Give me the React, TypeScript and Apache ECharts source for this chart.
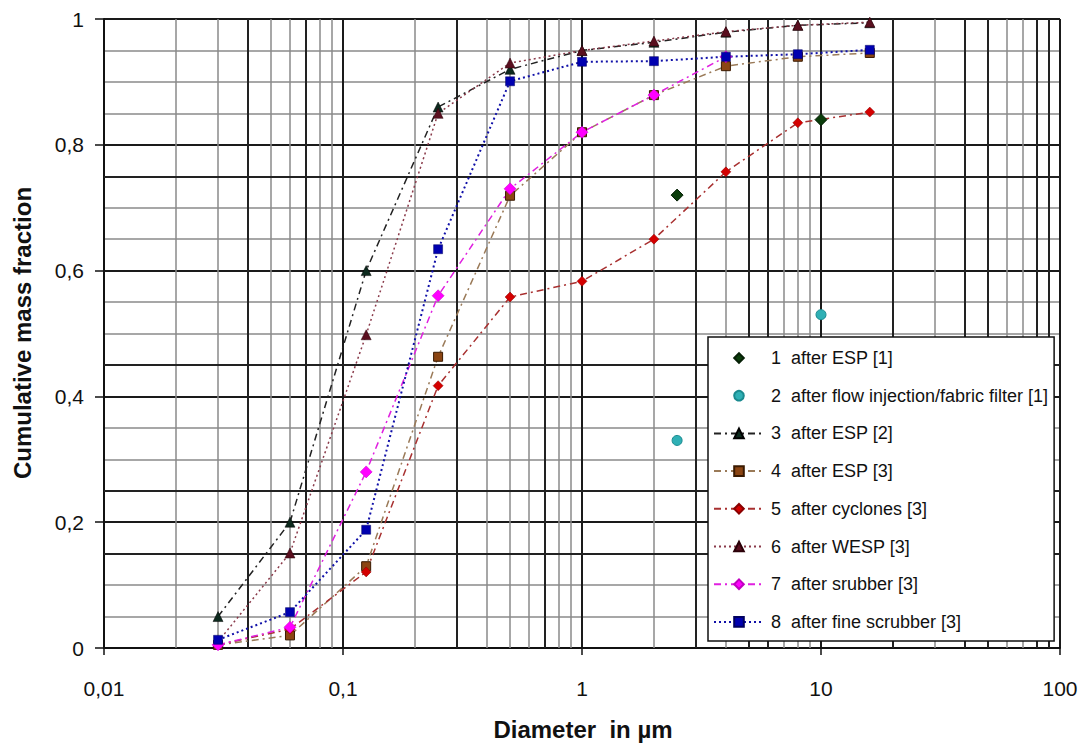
import React, { useEffect, useRef } from 'react';
import * as echarts from 'echarts';

// ---- data ----
const diameters = [0.03, 0.06, 0.125, 0.25, 0.5, 1, 2, 4, 8, 16];
const s1Points = [[2.5, 0.72], [10, 0.84]];
const s2Points = [[2.5, 0.33], [10, 0.53]];
const s3Values = [0.05, 0.2, 0.6, 0.86, 0.92, 0.95, 0.963, 0.979, 0.99, 0.994];
const s4Values = [0.005, 0.02, 0.13, 0.463, 0.719, 0.82, 0.879, 0.925, 0.94, 0.946];
const s5Values = [0.005, 0.03, 0.121, 0.417, 0.558, 0.583, 0.65, 0.757, 0.835, 0.852];
const s6Values = [0.01, 0.151, 0.498, 0.85, 0.93, 0.95, 0.965, 0.98, 0.99, 0.995];
const s7Values = [0.005, 0.033, 0.28, 0.56, 0.73, 0.82, 0.879, 0.94];
const s8Values = [0.013, 0.057, 0.188, 0.634, 0.901, 0.932, 0.933, 0.94, 0.944, 0.951];

const seriesNames = [
  '1  after ESP [1]',
  '2  after flow injection/fabric filter [1]',
  '3  after ESP [2]',
  '4  after ESP [3]',
  '5  after cyclones [3]',
  '6  after WESP [3]',
  '7  after srubber [3]',
  '8  after fine scrubber [3]',
];

const xTickLabels = ['0,01', '0,1', '1', '10', '100'];
const yTickLabels = ['0', '0,2', '0,4', '0,6', '0,8', '1'];

// grid structure (axis furniture, not data)
const decadeStarts = [0.01, 0.1, 1, 10];
const minorMultipliers = [2, 3, 4, 5, 6, 7, 8, 9];
const darkMinorX = [0.04, 0.07, 0.3, 0.7, 3, 5, 6, 20, 40, 50, 80, 90];
const darkExtraY = [0.15, 0.25, 0.45, 0.75];

const pair = (vals: number[]) => vals.map((v, i) => [diameters[i], v]);

export default function App() {
  const ref = useRef<HTMLDivElement>(null);
  useEffect(() => {
    if (!ref.current) return;
    const chart = echarts.init(ref.current, undefined, { renderer: 'svg' });
    const font = "'Liberation Sans', Arial, sans-serif";
    const minorX: number[] = [];
    decadeStarts.forEach((d) => minorMultipliers.forEach((k) => minorX.push(+(k * d).toPrecision(3))));
    const darkSet = new Set(darkMinorX.map((v) => v.toPrecision(3)));

    const gridMarks: any[] = [];
    minorX.forEach((v) => {
      const dark = darkSet.has(v.toPrecision(3));
      gridMarks.push({
        xAxis: v,
        lineStyle: { color: dark ? '#222' : '#8a8a8a', width: dark ? 2 : 1.5, type: 'solid' },
      });
    });
    darkExtraY.forEach((v) => {
      gridMarks.push({ yAxis: v, lineStyle: { color: '#222', width: 2, type: 'solid' } });
    });

    const lineBase = { type: 'line', showSymbol: true, z: 5 };

    chart.setOption({
      animation: false,
      backgroundColor: '#fff',
      grid: { left: 104, top: 19, right: 29, bottom: 97, containLabel: false },
      xAxis: {
        type: 'log',
        min: 0.01,
        max: 100,
        logBase: 10,
        axisLine: { show: true, lineStyle: { color: '#111', width: 2 } },
        axisTick: { show: true, length: 7, lineStyle: { color: '#111', width: 1.5 } },
        axisLabel: {
          margin: 30,
          fontSize: 21,
          color: '#111',
          fontFamily: font,
          formatter: (v: number) => xTickLabels[Math.round(Math.log10(v)) + 2] ?? '',
        },
        splitLine: { show: true, lineStyle: { color: '#1a1a1a', width: 2 } },
      },
      yAxis: {
        type: 'value',
        min: 0,
        max: 1,
        interval: 0.2,
        axisLine: { show: true, lineStyle: { color: '#111', width: 2 } },
        axisTick: { show: true, length: 9, lineStyle: { color: '#111', width: 1.5 } },
        axisLabel: {
          margin: 20,
          fontSize: 21,
          color: '#111',
          fontFamily: font,
          formatter: (v: number) => yTickLabels[Math.round(v * 5)] ?? '',
        },
        splitLine: { show: true, lineStyle: { color: '#1a1a1a', width: 2 } },
        minorTick: { show: false, splitNumber: 4 },
        minorSplitLine: { show: true, lineStyle: { color: '#8a8a8a', width: 1.5 } },
      },
      legend: {
        orient: 'vertical',
        left: 708,
        top: 337,
        padding: [12, 6, 10, 5],
        itemWidth: 50,
        itemHeight: 12,
        itemGap: 19.7,
        backgroundColor: '#fff',
        borderColor: '#111',
        borderWidth: 1.5,
        z: 20,
        textStyle: {
          fontSize: 18,
          lineHeight: 18,
          color: '#111',
          fontFamily: font,
          padding: [0, 0, 0, 2],
        },
        data: seriesNames,
      },
      graphic: [
        {
          type: 'text',
          x: 583,
          y: 729,
          style: {
            text: 'Diameter  in \u00b5m',
            fontSize: 24,
            fontWeight: 'bold',
            fontFamily: font,
            fill: '#111',
            textAlign: 'center',
            textVerticalAlign: 'middle',
          },
        },
        {
          type: 'text',
          x: 22,
          y: 333,
          rotation: Math.PI / 2,
          style: {
            text: 'Cumulative mass fraction',
            fontSize: 24,
            fontWeight: 'bold',
            fontFamily: font,
            fill: '#111',
            textAlign: 'center',
            textVerticalAlign: 'middle',
          },
        },
      ],
      series: [
        {
          name: '__grid',
          type: 'line',
          data: [],
          z: 1,
          silent: true,
          markLine: {
            silent: true,
            symbol: 'none',
            label: { show: false },
            emphasis: { disabled: true },
            data: gridMarks,
          },
        },
        {
          ...lineBase,
          name: seriesNames[0],
          data: s1Points,
          symbol: 'diamond',
          symbolSize: 12,
          itemStyle: { color: '#0b3d0b', borderColor: '#062006', borderWidth: 1 },
          lineStyle: { width: 0, opacity: 0 },
          z: 6,
        },
        {
          ...lineBase,
          name: seriesNames[1],
          data: s2Points,
          symbol: 'circle',
          symbolSize: 10,
          itemStyle: { color: '#2fb0b5', borderColor: '#1a8a8f', borderWidth: 1 },
          lineStyle: { width: 0, opacity: 0 },
          z: 6,
        },
        {
          ...lineBase,
          name: seriesNames[2],
          data: pair(s3Values),
          symbol: 'triangle',
          symbolSize: 10,
          itemStyle: { color: '#0d2a1e', borderColor: '#000', borderWidth: 0.5 },
          lineStyle: { color: '#222', width: 1.5, type: [7, 4, 2, 4] },
        },
        {
          ...lineBase,
          name: seriesNames[3],
          data: pair(s4Values),
          symbol: 'rect',
          symbolSize: 9,
          itemStyle: { color: '#8b4513', borderColor: '#3a1a00', borderWidth: 1 },
          lineStyle: { color: '#9a7a58', width: 1.5, type: [7, 4, 2, 4] },
        },
        {
          ...lineBase,
          name: seriesNames[4],
          data: pair(s5Values),
          symbol: 'diamond',
          symbolSize: 10,
          itemStyle: { color: '#d40000', borderColor: '#8a0000', borderWidth: 0.5 },
          lineStyle: { color: '#a83030', width: 1.5, type: [7, 4, 2, 4] },
        },
        {
          ...lineBase,
          name: seriesNames[5],
          data: pair(s6Values),
          symbol: 'triangle',
          symbolSize: 10,
          itemStyle: { color: '#5a0f1f', borderColor: '#2a0008', borderWidth: 0.5 },
          lineStyle: { color: '#8a3a4a', width: 1.5, type: [2, 3] },
        },
        {
          ...lineBase,
          name: seriesNames[6],
          data: pair(s7Values),
          symbol: 'diamond',
          symbolSize: 12,
          itemStyle: { color: '#ff00ff', borderColor: '#c000c0', borderWidth: 0.5 },
          lineStyle: { color: '#e020e0', width: 1.5, type: [7, 4, 2, 4] },
        },
        {
          ...lineBase,
          name: seriesNames[7],
          data: pair(s8Values),
          symbol: 'rect',
          symbolSize: 9,
          itemStyle: { color: '#0000b0', borderColor: '#000060', borderWidth: 0.5 },
          lineStyle: { color: '#1010a8', width: 2, type: [2, 3] },
        },
      ],
    });
    return () => chart.dispose();
  }, []);
  return (
    <div
      ref={ref}
      style={{ position: 'fixed', left: 0, top: 0, width: 1089, height: 745, background: '#fff' }}
    />
  );
}
